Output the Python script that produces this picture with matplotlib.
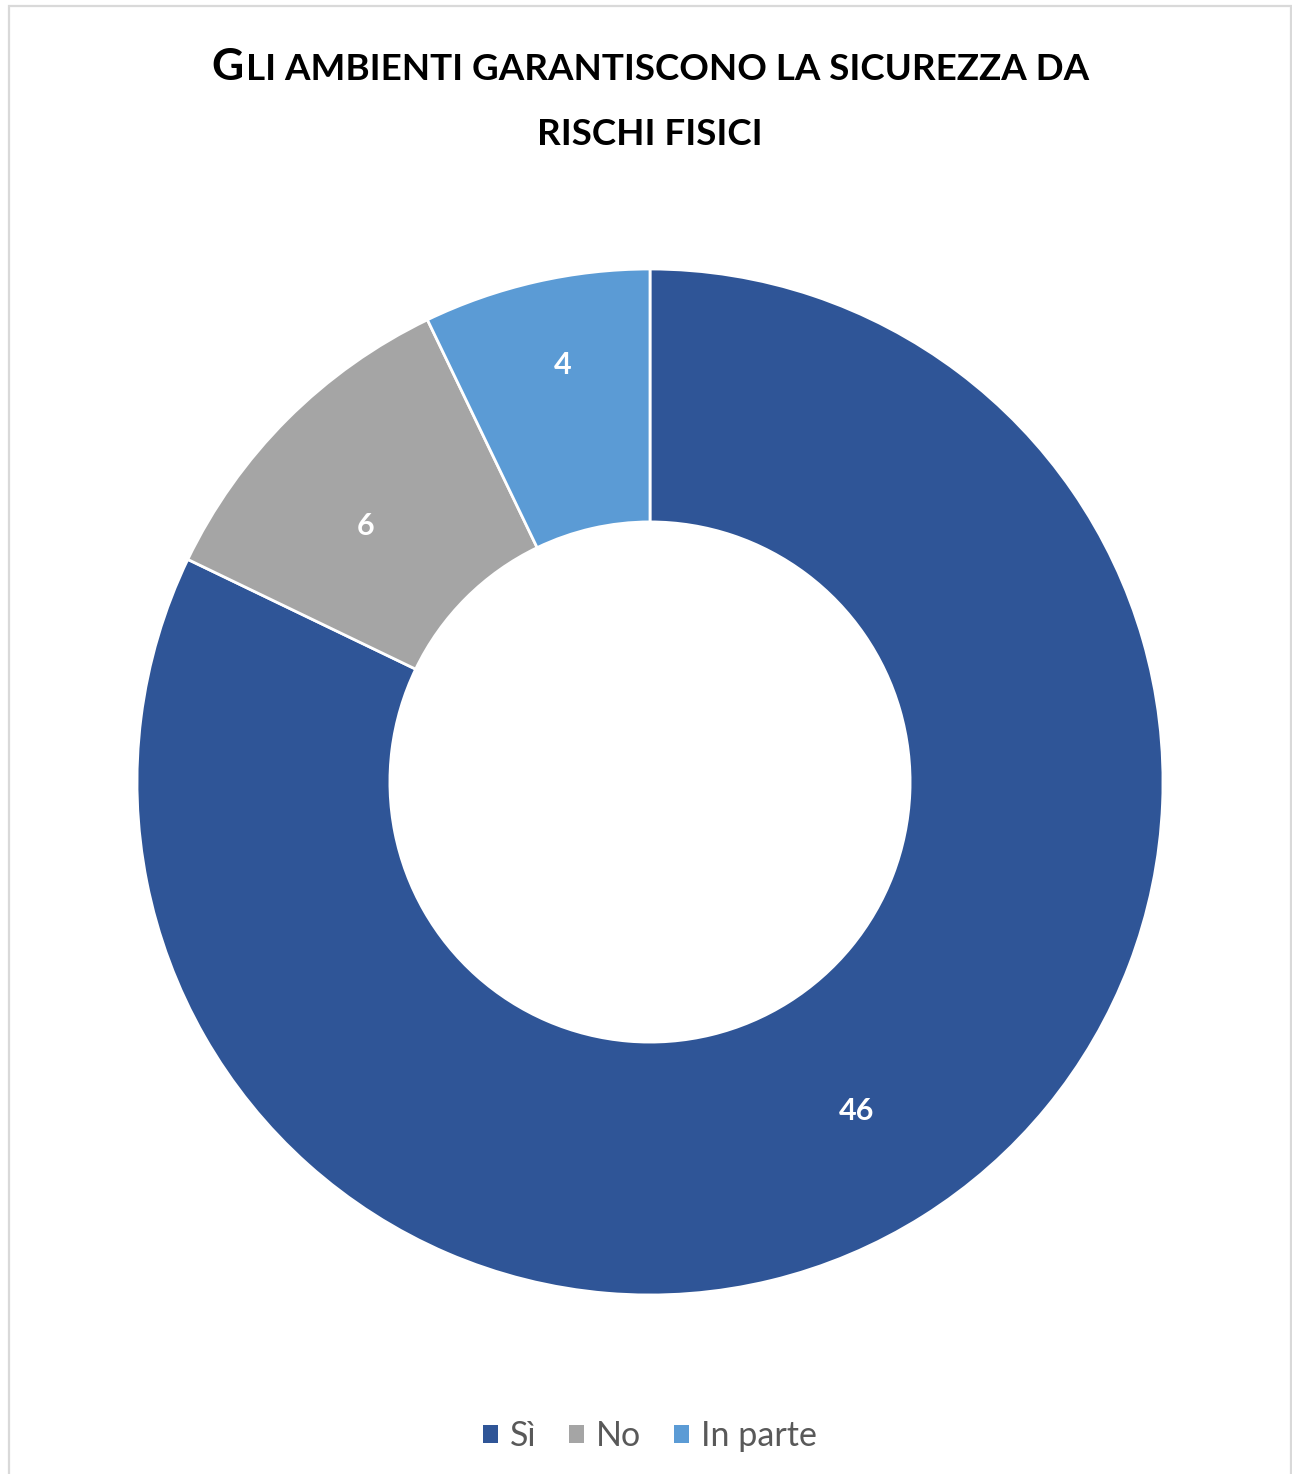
import matplotlib
matplotlib.use("Agg")
import matplotlib.pyplot as plt
from matplotlib.patches import Rectangle, Patch
import numpy as np

categories = ["Sì", "No", "In parte"]
values = [46, 6, 4]
colors = ["#2F5597", "#A5A5A5", "#5B9BD5"]
title_lines = [
    [("G", 32), ("LI AMBIENTI GARANTISCONO LA SICUREZZA DA", 26.5)],
    [("RISCHI FISICI", 26.5)],
]

# label placement inside the ring: radius (fraction of outer) and angle nudge
label_radius = [0.757, 0.745, 0.83]
label_nudge = [0.0, 3.0, -1.0]

W, H, DPI = 1292, 1474, 100
fig = plt.figure(figsize=(W / DPI, H / DPI), dpi=DPI)
fig.patch.set_facecolor("white")
FONT = "Lato"

# chart frame
fig.add_artist(Rectangle((8.5 / W, -0.01), (1290.5 - 8.5) / W, 1.01 - 6 / H,
                         transform=fig.transFigure, fill=False,
                         edgecolor="#D9D9D9", linewidth=1.6))

cx, cy, R = 650, 782, 513
ax = fig.add_axes([(cx - R) / W, (H - cy - R) / H, 2 * R / W, 2 * R / H])
ax.pie(values, colors=colors, startangle=90, counterclock=False, radius=1.0,
       wedgeprops=dict(width=0.493, edgecolor="white", linewidth=2))
ax.set_xlim(-1, 1)
ax.set_ylim(-1, 1)
ax.set_aspect("equal")
ax.axis("off")

total = sum(values)
start = 90.0
for v, r, nudge in zip(values, label_radius, label_nudge):
    ang = np.radians(start - v / total * 180 + nudge)
    ax.text(r * np.cos(ang), r * np.sin(ang), str(v), ha="center", va="center",
            color="white", fontsize=22, fontweight="bold", family=FONT)
    start -= v / total * 360

# title drawn in small caps: pieces of different sizes on a shared baseline
renderer = fig.canvas.get_renderer()
baselines = [H - 80, H - 145]
for pieces, base in zip(title_lines, baselines):
    texts = []
    for s, size in pieces:
        t = fig.text(0, base / H, s, fontsize=size, fontweight="bold",
                     family=FONT, ha="left", va="baseline", color="black")
        texts.append(t)
    widths = [t.get_window_extent(renderer).width for t in texts]
    gap = 2.0
    total_w = sum(widths) + gap * (len(widths) - 1)
    x = cx - total_w / 2
    for t, w in zip(texts, widths):
        t.set_x(x / W)
        x += w + gap

handles = [Patch(facecolor=c, edgecolor="none") for c in colors]
leg = fig.legend(handles, categories, loc="center", ncol=3,
                 bbox_to_anchor=(cx / W, 1 - 1436 / H), frameon=False,
                 prop=dict(family=FONT, size=24.5), handlelength=0.45,
                 handleheight=0.45, handletextpad=0.35, columnspacing=0.95)
for txt in leg.get_texts():
    txt.set_color("#595959")

fig.savefig("out.png", dpi=DPI, facecolor="white")
